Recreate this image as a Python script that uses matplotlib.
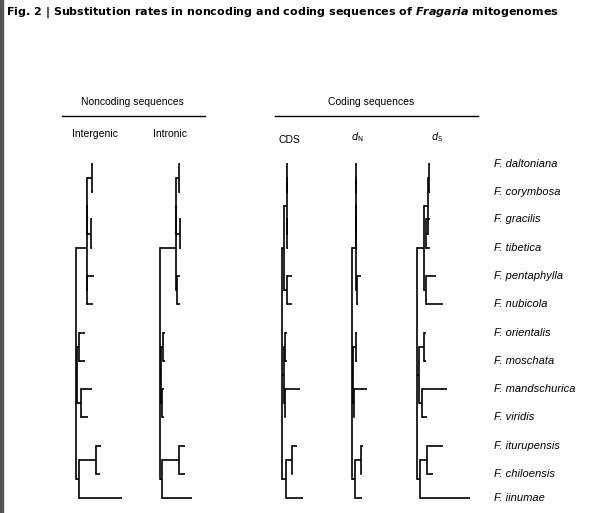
import matplotlib
matplotlib.use("Agg")
import matplotlib.pyplot as plt

species = ["F. daltoniana","F. corymbosa","F. gracilis","F. tibetica","F. pentaphylla",
           "F. nubicola","F. orientalis","F. moschata","F. mandschurica","F. viridis",
           "F. iturupensis","F. chiloensis","F. iinumae"]
leaf_y = [164,192,219,248,276,304,333,361,389,417,446,474,498]

topology = {
    "dc": [0,1], "gt": [2,3], "A": ["dc","gt"], "pn": [4,5], "B": ["A","pn"],
    "om": [6,7], "mv": [8,9], "C": ["om","mv"], "ic": [10,11], "E": ["ic",12],
    "root": ["B","C","E"],
}
panels = ["Intergenic","Intronic","CDS","dN","dS"]
tips = {
    "Intergenic": [93,93,92,92,94,93,85,85,92,88,101,100,122],
    "Intronic":   [180,180,181,181,180,180,165,165,164,164,185,185,192],
    "CDS":        [288,288,288,288,292,292,287,287,300,285,297,292,303],
    "dN":         [357,357,357,357,361,358,357,357,367,354,363,361,362],
    "dS":         [430,430,430,430,436,443,426,426,447,427,443,433,470],
}
nodes = {
    "Intergenic": {"dc":92,"gt":91,"A":87,"pn":87,"B":87,"om":79,"mv":81,"C":77,"ic":96,"E":79,"root":76},
    "Intronic":   {"dc":179,"gt":180,"A":176,"pn":177,"B":176,"om":163,"mv":162,"C":161,"ic":179,"E":162,"root":160},
    "CDS":        {"dc":287,"gt":287,"A":287,"pn":287,"B":284,"om":285,"mv":285,"C":284,"ic":292,"E":286,"root":282},
    "dN":         {"dc":356,"gt":356,"A":356,"pn":357,"B":356,"om":356,"mv":354,"C":353,"ic":361,"E":355,"root":352},
    "dS":         {"dc":429,"gt":426,"A":428,"pn":426,"B":424,"om":424,"mv":422,"C":419,"ic":427,"E":420,"root":417},
}

fig = plt.figure(figsize=(6.12,5.13), dpi=100)
ax = fig.add_axes([0,0,1,1])
ax.set_xlim(0,612); ax.set_ylim(513,0); ax.axis("off")

def draw(panel):
    tx, nx = tips[panel], nodes[panel]
    def rec(n):
        if isinstance(n,int):
            return tx[n], leaf_y[n]
        x = nx[n]
        ys = []
        for c in topology[n]:
            cx, cy = rec(c)
            ax.plot([x,cx],[cy,cy],color="black",lw=1.2,solid_capstyle="butt")
            ys.append(cy)
        ax.plot([x,x],[min(ys),max(ys)],color="black",lw=1.2)
        return x, sum(ys)/len(ys)
    rec("root")

for p in panels:
    draw(p)

for s,y in zip(species,leaf_y):
    ax.text(494,y,s,style="italic",fontsize=8,va="center",ha="left",family="Liberation Sans")

ax.add_patch(plt.Rectangle((0,0),3,513,color="#555555"))
ax.text(6,12,"Fig. 2 | Substitution rates in noncoding and coding sequences of $\\bfit{Fragaria}$ mitogenomes",
        fontsize=8.0,fontweight="bold",va="center",ha="left")
ax.text(132,102,"Noncoding sequences",fontsize=7.5,ha="center",va="center",family="Liberation Sans")
ax.plot([62,205],[116,116],color="black",lw=1)
ax.text(371,102,"Coding sequences",fontsize=7.5,ha="center",va="center",family="Liberation Sans")
ax.plot([275,478],[116,116],color="black",lw=1)
ax.text(95,134,"Intergenic",fontsize=7.5,ha="center",va="center",family="Liberation Sans")
ax.text(170,134,"Intronic",fontsize=7.5,ha="center",va="center",family="Liberation Sans")
ax.text(289,140,"CDS",fontsize=7.5,ha="center",va="center",family="Liberation Sans")
ax.text(357,137,"$d_{\\mathrm{N}}$",fontsize=7,ha="center",va="center")
ax.text(437,137,"$d_{\\mathrm{S}}$",fontsize=7,ha="center",va="center")
fig.savefig("out.png",dpi=100)
